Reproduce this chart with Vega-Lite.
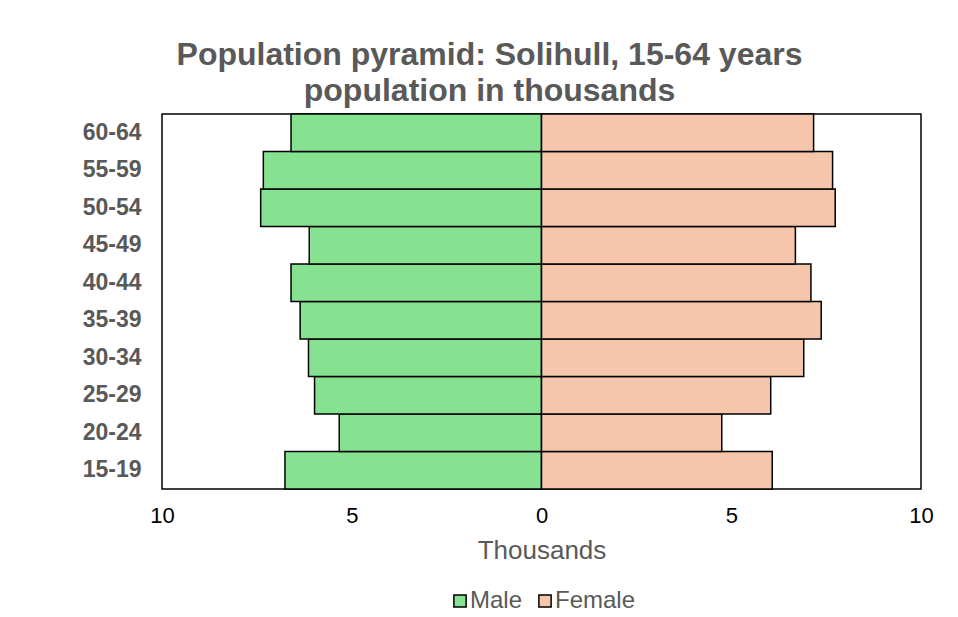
{
  "$schema": "https://vega.github.io/schema/vega-lite/v6.json",
  "width": 759,
  "height": 375,
  "autosize": {"type": "none"},
  "padding": {"left": 162, "top": 114, "right": 37, "bottom": 128},
  "background": "white",
  "title": {
    "text": ["Population pyramid: Solihull, 15-64 years", "population in thousands"],
    "font": "Liberation Sans",
    "fontSize": 32,
    "fontWeight": "bold",
    "color": "#595959",
    "anchor": "middle",
    "dx": -52,
    "offset": 5,
    "lineHeight": 36
  },
  "data": {
    "values": [
      {"age": "15-19", "sex": "Male", "value": 6.76},
      {"age": "20-24", "sex": "Male", "value": 5.33},
      {"age": "25-29", "sex": "Male", "value": 5.98},
      {"age": "30-34", "sex": "Male", "value": 6.14},
      {"age": "35-39", "sex": "Male", "value": 6.36},
      {"age": "40-44", "sex": "Male", "value": 6.60},
      {"age": "45-49", "sex": "Male", "value": 6.12},
      {"age": "50-54", "sex": "Male", "value": 7.40},
      {"age": "55-59", "sex": "Male", "value": 7.33},
      {"age": "60-64", "sex": "Male", "value": 6.60},
      {"age": "15-19", "sex": "Female", "value": 6.08},
      {"age": "20-24", "sex": "Female", "value": 4.75},
      {"age": "25-29", "sex": "Female", "value": 6.04},
      {"age": "30-34", "sex": "Female", "value": 6.91},
      {"age": "35-39", "sex": "Female", "value": 7.37},
      {"age": "40-44", "sex": "Female", "value": 7.10},
      {"age": "45-49", "sex": "Female", "value": 6.69},
      {"age": "50-54", "sex": "Female", "value": 7.74},
      {"age": "55-59", "sex": "Female", "value": 7.67},
      {"age": "60-64", "sex": "Female", "value": 7.17}
    ]
  },
  "transform": [
    {"calculate": "datum.sex === 'Male' ? -datum.value : datum.value", "as": "signed"}
  ],
  "mark": {"type": "bar", "stroke": "black", "strokeWidth": 1.5},
  "encoding": {
    "y": {
      "field": "age",
      "type": "nominal",
      "sort": "descending",
      "scale": {"paddingInner": 0, "paddingOuter": 0},
      "axis": {
        "title": null,
        "domain": false,
        "ticks": false,
        "labelFont": "Liberation Sans",
        "labelFontSize": 23,
        "labelFontWeight": "bold",
        "labelColor": "#595959",
        "labelPadding": 21
      }
    },
    "x": {
      "field": "signed",
      "type": "quantitative",
      "scale": {"domain": [-10, 10], "nice": false},
      "axis": {
        "title": "Thousands",
        "values": [-10, -5, 0, 5, 10],
        "labelExpr": "abs(datum.value)",
        "labelFlush": false,
        "grid": false,
        "domain": false,
        "ticks": false,
        "labelFont": "Liberation Sans",
        "labelFontSize": 22,
        "labelColor": "#000000",
        "labelPadding": 16,
        "titleFont": "Liberation Sans",
        "titleFontSize": 26,
        "titleFontWeight": "normal",
        "titleColor": "#595959",
        "titlePadding": 11
      }
    },
    "color": {
      "field": "sex",
      "type": "nominal",
      "scale": {"domain": ["Male", "Female"], "range": ["#86E290", "#F5C6AB"]},
      "legend": {
        "title": null,
        "orient": "none",
        "direction": "horizontal",
        "legendX": 286,
        "legendY": 475,
        "symbolType": "square",
        "symbolSize": 150,
        "symbolStrokeColor": "black",
        "symbolStrokeWidth": 1.5,
        "symbolOpacity": 1,
        "labelFont": "Liberation Sans",
        "labelFontSize": 24,
        "labelColor": "#595959",
        "labelOffset": -2,
        "columnPadding": 10
      }
    }
  },
  "config": {
    "view": {"stroke": "black", "strokeWidth": 1.5}
  }
}
